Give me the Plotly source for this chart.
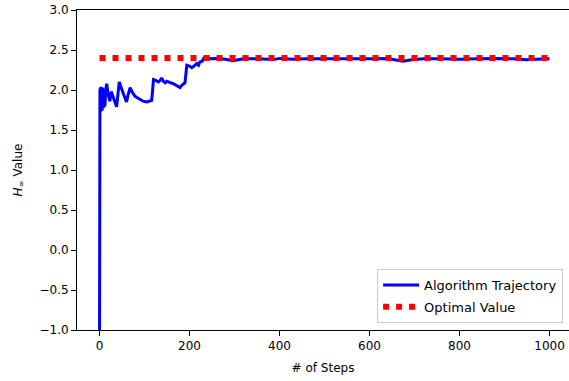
import plotly.graph_objects as go

steps = [0, 1, 2, 3, 4, 5, 6, 7, 8, 9, 10, 11, 12, 14, 16, 19, 23, 26, 29, 33, 38, 41,
         44, 48, 53, 57, 60, 64, 68, 73, 79, 85, 90, 97, 105, 110, 116, 118, 120, 125,
         131, 135, 138, 142, 146, 150, 153, 158, 164, 170, 175, 179, 183, 188, 190, 192,
         194, 200, 205, 210, 216, 220, 223, 228, 232, 240, 260, 280, 297, 305, 320, 350,
         386, 400, 430, 460, 500, 540, 560, 600, 640, 660, 675, 690, 720, 760, 800, 840,
         880, 920, 950, 970, 1000]
values = [-1.2, 2.02, 1.72, 2.04, 1.78, 1.98, 1.74, 2.03, 1.85, 1.95, 1.78, 1.92, 1.80,
          2.00, 2.08, 1.95, 1.86, 1.98, 1.93, 1.85, 1.79, 1.95, 2.10, 2.03, 1.96, 1.90,
          1.85, 1.95, 2.03, 1.97, 1.92, 1.90, 1.88, 1.86, 1.85, 1.86, 1.87, 2.00, 2.13,
          2.12, 2.10, 2.12, 2.15, 2.11, 2.09, 2.11, 2.10, 2.09, 2.08, 2.06, 2.04, 2.03,
          2.06, 2.08, 2.09, 2.20, 2.31, 2.30, 2.28, 2.30, 2.33, 2.31, 2.35, 2.36, 2.40,
          2.39, 2.395, 2.385, 2.365, 2.375, 2.39, 2.39, 2.38, 2.395, 2.385, 2.39, 2.39,
          2.385, 2.39, 2.39, 2.395, 2.38, 2.36, 2.375, 2.39, 2.39, 2.385, 2.39, 2.395,
          2.39, 2.378, 2.385, 2.39]
opt_steps = [0, 1000]
opt_values = [2.4, 2.4]

x_ticks = [0, 200, 400, 600, 800, 1000]
y_ticks = [-1.0, -0.5, 0.0, 0.5, 1.0, 1.5, 2.0, 2.5, 3.0]

fig = go.Figure()
fig.add_trace(go.Scatter(x=steps, y=values, mode="lines", name="Algorithm Trajectory",
                         legendgroup="a", line=dict(color="#0000ff", width=3)))
fig.add_trace(go.Scatter(x=opt_steps, y=opt_values, mode="lines", name="Optimal Value",
                         legendgroup="b", line=dict(color="#ff0000", width=6, dash="6px,7px")))

axis_common = dict(showgrid=False, zeroline=False, showline=True, linecolor="#000000",
                   linewidth=1, ticks="outside", ticklen=5, tickwidth=1, tickcolor="#000000",
                   tickfont=dict(size=12, color="#000000"), automargin=False)
fig.update_xaxes(range=[-50, 1043.3], tickvals=x_ticks, ticktext=[str(t) for t in x_ticks],
                 mirror=True, title=dict(text="# of Steps", font=dict(size=12, color="#000000"),
                                         standoff=11), **axis_common)
fig.update_yaxes(range=[-1.0, 3.0], tickvals=y_ticks,
                 ticktext=[f"{t:.1f}".replace("-", "\u2212") for t in y_ticks],
                 title=dict(text="<i>H</i><sub>\u221e</sub> Value", font=dict(size=12, color="#000000"),
                            standoff=14), **axis_common)
fig.update_layout(
    width=569, height=381,
    margin=dict(l=77, r=0, t=10, b=51),
    paper_bgcolor="white", plot_bgcolor="white",
    font=dict(family="DejaVu Sans", size=12, color="#000000"),
    legend=dict(x=0.988, y=0.022, xanchor="right", yanchor="bottom",
                bordercolor="#cccccc", borderwidth=1, bgcolor="rgba(255,255,255,0.8)",
                font=dict(size=13), itemwidth=36, tracegroupgap=2),
    showlegend=True,
)
fig.write_html("out.html", config={"displayModeBar": False},
               post_script="document.body.style.margin='0';document.body.style.padding='0';")
